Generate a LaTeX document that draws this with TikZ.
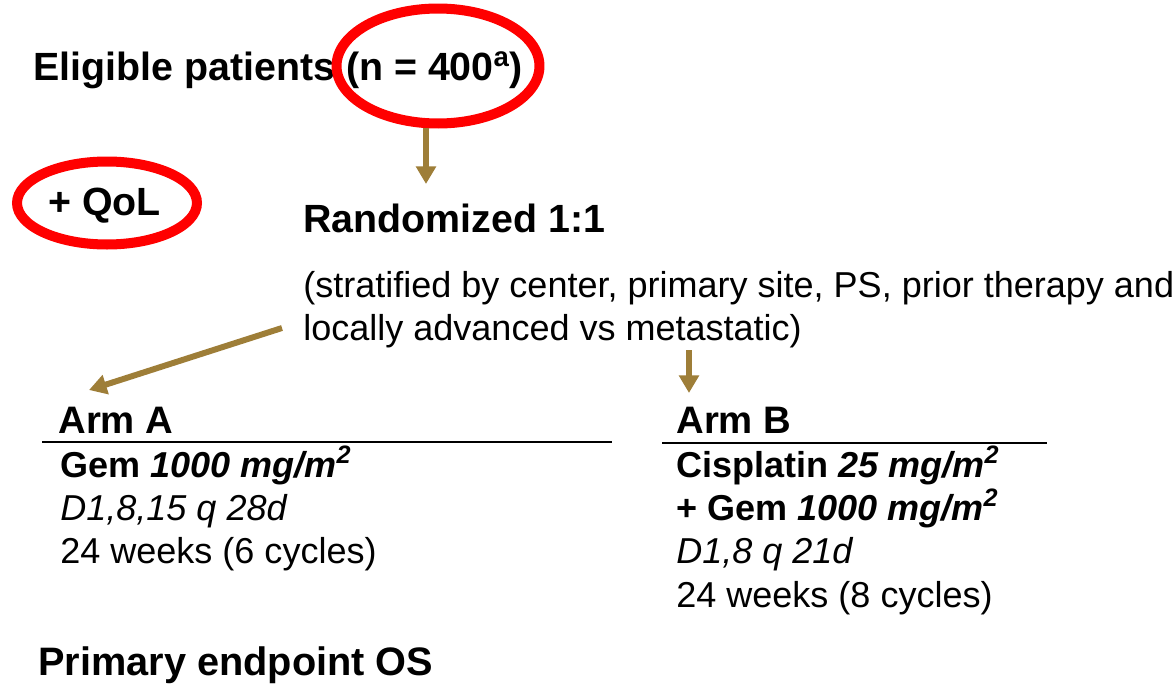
\documentclass[tikz,border=0pt]{standalone}
\usepackage{fontspec}
\setmainfont{Liberation Sans}
\usetikzlibrary{shapes.geometric,arrows.meta}
\definecolor{gold}{RGB}{158,126,56}
\begin{document}
\begin{tikzpicture}[x=0.02cm,y=-0.02cm,>={Triangle[width=11pt,length=10pt]}]
\tikzset{
  head/.style={anchor=base west,inner sep=0pt,font=\fontsize{22.4}{26}\selectfont\bfseries},
  body/.style={anchor=base west,inner sep=0pt,font=\fontsize{20.5}{24}\selectfont},
  bbody/.style={body,font=\fontsize{20.5}{24}\selectfont\bfseries},
  ring/.style={draw=red,ellipse,line width=5.7pt,inner sep=0pt},
  flow/.style={->,draw=gold,line width=3.4pt}
}
\useasboundingbox (0,0) rectangle (1176,683);
\node[head] (elig) at (33,80) {Eligible patients (n = 400\textsuperscript{a})};
\node[ring,minimum width=4.06cm,minimum height=2.3cm] (n400) at (438,66) {};
\node[ring,minimum width=3.6cm,minimum height=1.66cm] (qol) at (107,203) {};
\node[head] (qoltext) at (48,215) {+ QoL};
\node[head] (rand) at (303,232) {Randomized 1:1};
\node[body] (strat1) at (303,297) {(stratified by center, primary site, PS, prior therapy and};
\node[body] (strat2) at (303,340) {locally advanced vs metastatic)};
% arm A
\node[head,font=\fontsize{21.8}{26}\selectfont\bfseries] (armA) at (58,433) {Arm A};
\node[bbody] (gemA) at (60,477) {Gem \textit{1000 mg/m\textsuperscript{2}}};
\node[body] (schedA) at (60,520) {\itshape D1,8,15 q 28d};
\node[body] (durA) at (60,563) {24 weeks (6 cycles)};
% arm B
\node[head,font=\fontsize{21.8}{26}\selectfont\bfseries] (armB) at (676,433) {Arm B};
\node[bbody] (cisB) at (676,477) {Cisplatin \textit{25 mg/m\textsuperscript{2}}};
\node[bbody] (gemB) at (676,520) {+ Gem \textit{1000 mg/m\textsuperscript{2}}};
\node[body] (schedB) at (676,563) {\itshape D1,8 q 21d};
\node[body] (durB) at (676,607) {24 weeks (8 cycles)};
\node[head,font=\fontsize{22.6}{26}\selectfont\bfseries] (prim) at (38,675) {Primary endpoint OS};
% rules under the arm titles
\coordinate (ruleA1) at (42,442);
\coordinate (ruleA2) at (612,442);
\coordinate (ruleB1) at (662,443);
\coordinate (ruleB2) at (1047,443);
\draw[line width=1.1pt] (ruleA1) -- (ruleA2);
\draw[line width=1.1pt] (ruleB1) -- (ruleB2);
% arrows
\coordinate (tipR) at (426,184);
\coordinate (fromS) at (282,328);
\coordinate (tipA) at (89,390);
\coordinate (fromB) at (689,350);
\coordinate (tipB) at (689,393);
\draw[flow] (n400.south -| tipR) -- (tipR);
\draw[flow] (fromS) -- (tipA);
\draw[flow] (fromB) -- (tipB);
\end{tikzpicture}
\end{document}
